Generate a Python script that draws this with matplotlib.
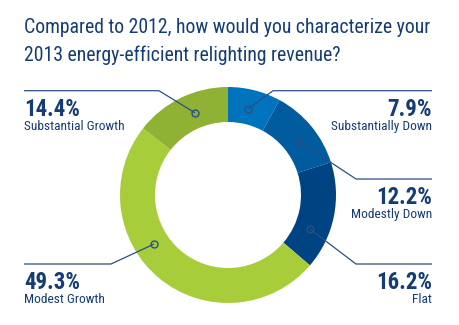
import numpy as np
import matplotlib
matplotlib.use("Agg")
import matplotlib.pyplot as plt

# survey answers, clockwise from 12 o'clock
categories = ["Substantially Down", "Modestly Down", "Flat", "Modest Growth", "Substantial Growth"]
shares = [7.9, 12.2, 16.2, 49.3, 14.4]
colors = ["#0073bd", "#005b9f", "#004383", "#a8cd3a", "#8fb134"]

title_lines = ["Compared to 2012, how would you characterize your",
               "2013 energy-efficient relighting revenue?"]

NAVY = "#143c75"
LINE = "#2b4f86"
W, H = 460, 325
FONT = ["Roboto Condensed", "Roboto"]
STRETCH = "condensed"

fig = plt.figure(figsize=(W / 100, H / 100), dpi=100)
ax = fig.add_axes([0, 0, 1, 1])


def py(y):
    # canvas is laid out top-down in pixels
    return H - y


cx, cy, R = 228, py(195), 108
ax.pie(shares, colors=colors, startangle=90, counterclock=False,
       center=(cx, cy), radius=R,
       wedgeprops=dict(width=35, edgecolor="none"))

ax.set_xlim(0, W)
ax.set_ylim(0, H)
ax.set_aspect("equal")
ax.axis("off")

# label layout: side, y of the leader's horizontal run, elbow x, angle nudge
layout = {
    "Substantially Down": ("right", 90.7, 273, -1),
    "Modestly Down": ("right", 179, 356, 2),
    "Flat": ("right", 264, 356, 11),
    "Modest Growth": ("left", 264, 111, 17),
    "Substantial Growth": ("left", 90.7, 159, 4),
}

start = 0.0
for name, val in zip(categories, shares):
    side, ly, ex, nudge = layout[name]
    mid = (start + val / 2) / 100 * 360 + nudge
    start += val
    th = np.deg2rad(90 - mid)
    r = R * 0.82
    mx, my = cx + r * np.cos(th), cy + r * np.sin(th)
    end_x = 432 if side == "right" else 24
    ax.plot([mx, ex, end_x], [my, py(ly), py(ly)], color=LINE, lw=0.9,
            solid_capstyle="butt", zorder=3)
    ax.plot(mx, my, "o", ms=5, mfc="none", mec=LINE, mew=1.0, zorder=4)
    ha = "right" if side == "right" else "left"
    ax.text(end_x, py(ly + 25), f"{val:.1f}%", ha=ha, va="baseline",
            fontsize=16.5, fontweight="bold", color=NAVY, family=FONT,
            fontstretch=STRETCH)
    ax.text(end_x, py(ly + 39), name, ha=ha, va="baseline",
            fontsize=9.6, color=NAVY, family=FONT, fontstretch=STRETCH)

for i, line in enumerate(title_lines):
    ax.text(24, py(33 + 28 * i), line, ha="left", va="baseline",
            fontsize=14.2, color=NAVY, family=FONT, fontstretch=STRETCH)

fig.savefig("out.png", dpi=100)
